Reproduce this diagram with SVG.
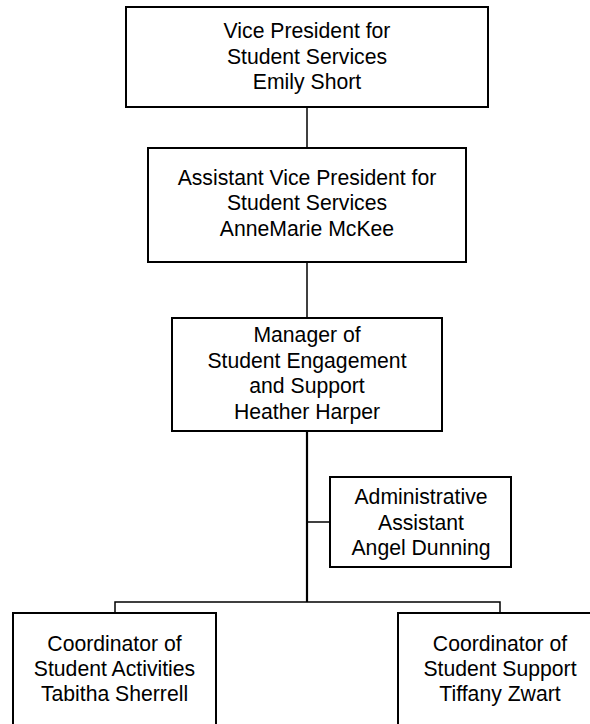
<svg xmlns="http://www.w3.org/2000/svg" width="590" height="724" viewBox="0 0 590 724">
<style>
  .box { fill: #ffffff; stroke: #000000; stroke-width: 2; }
  .lbl { font-family: "Liberation Sans", Arial, sans-serif; font-size: 21.2px; fill: #000000; text-anchor: middle; }
  .conn { stroke: #000000; stroke-width: 1.5; fill: none; }
  .trunk { stroke: #000000; stroke-width: 2.2; fill: none; }
</style>
<rect x="0" y="0" width="590" height="724" fill="#ffffff"/>
<g id="connectors">
  <line class="conn" x1="307" y1="107" x2="307" y2="148"/>
  <line class="conn" x1="307" y1="262" x2="307" y2="318"/>
  <line class="trunk" x1="307" y1="431" x2="307" y2="602"/>
  <line class="conn" x1="307" y1="522" x2="330" y2="522"/>
  <polyline class="conn" points="115,613 115,602 500,602 500,613"/>
</g>
<g id="vp">
  <rect class="box" x="126" y="7" width="362" height="100"/>
  <text class="lbl" x="307" y="38">Vice President for</text>
  <text class="lbl" x="307" y="64">Student Services</text>
  <text class="lbl" x="307" y="89">Emily Short</text>
</g>
<g id="avp">
  <rect class="box" x="148" y="148" width="318" height="114"/>
  <text class="lbl" x="307" y="185">Assistant Vice President for</text>
  <text class="lbl" x="307" y="210">Student Services</text>
  <text class="lbl" x="307" y="236">AnneMarie McKee</text>
</g>
<g id="manager">
  <rect class="box" x="172" y="318" width="270" height="113"/>
  <text class="lbl" x="307" y="342">Manager of</text>
  <text class="lbl" x="307" y="368">Student Engagement</text>
  <text class="lbl" x="307" y="393">and Support</text>
  <text class="lbl" x="307" y="419">Heather Harper</text>
</g>
<g id="admin">
  <rect class="box" x="330" y="477" width="181" height="90"/>
  <text class="lbl" x="421" y="504">Administrative</text>
  <text class="lbl" x="421" y="530">Assistant</text>
  <text class="lbl" x="421" y="555">Angel Dunning</text>
</g>
<g id="activities">
  <rect class="box" x="13" y="613" width="203" height="120"/>
  <text class="lbl" x="114.5" y="651">Coordinator of</text>
  <text class="lbl" x="114.5" y="676">Student Activities</text>
  <text class="lbl" x="114.5" y="701">Tabitha Sherrell</text>
</g>
<g id="support">
  <rect class="box" x="398" y="613" width="204" height="120"/>
  <text class="lbl" x="500" y="651">Coordinator of</text>
  <text class="lbl" x="500" y="676">Student Support</text>
  <text class="lbl" x="500" y="701">Tiffany Zwart</text>
</g>
</svg>
